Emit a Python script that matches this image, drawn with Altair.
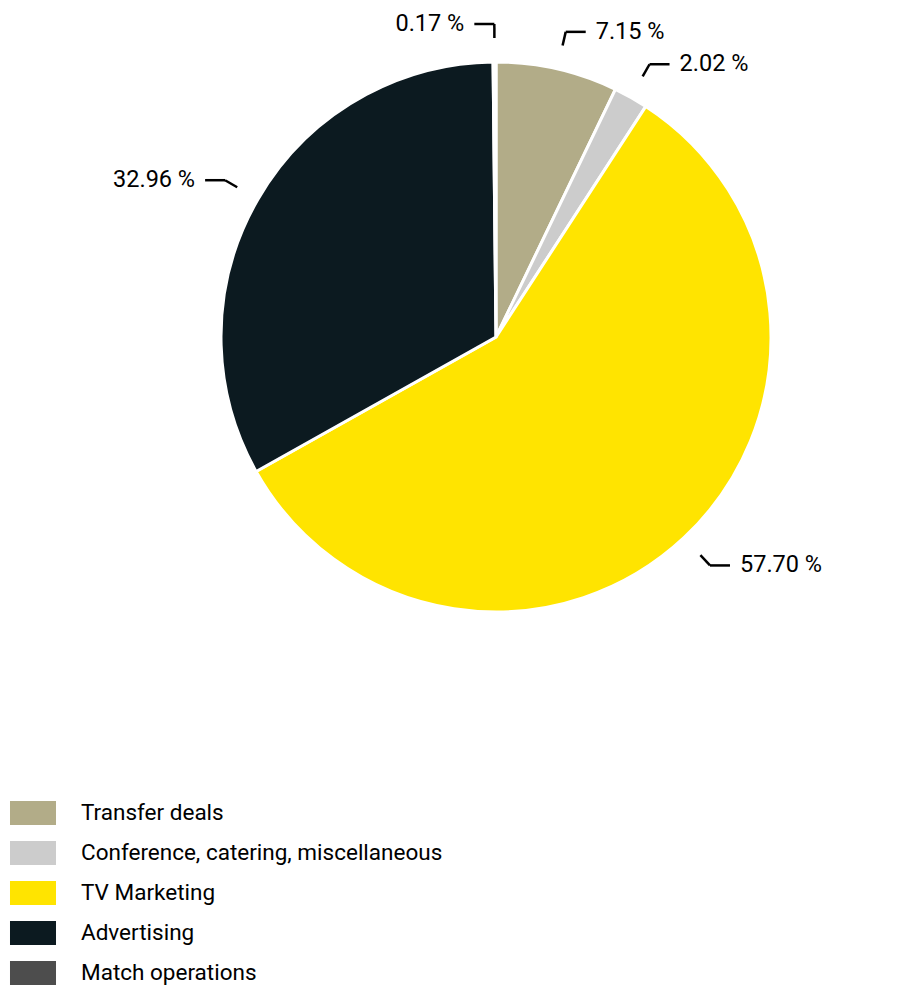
import altair as alt
import pandas as pd

categories = ["Transfer deals", "Conference, catering, miscellaneous",
              "TV Marketing", "Advertising", "Match operations"]
shares = [7.15, 2.02, 57.70, 32.96, 0.17]
colors = ["#b2ac88", "#cccccc", "#ffe400", "#0c1a20", "#4d4d4d"]

df = pd.DataFrame({"category": categories, "value": shares,
                   "order": list(range(len(categories)))})

W, H = 910, 985
CX, CY, R = 496, 337, 275
R1, R2, HOR, GAP = 299, 313, 20, 10
FONT = "Roboto"

xs = alt.Scale(domain=[0, W], nice=False, zero=False)
ys = alt.Scale(domain=[0, H], nice=False, zero=False, reverse=True)

base = alt.Chart(df)

legend = alt.Legend(
    orient="none", legendX=21, legendY=801, title=None, padding=0,
    symbolType="M-1.917,-1H1.917V1H-1.917Z", symbolSize=576,
    symbolStrokeWidth=0, symbolOpacity=1,
    labelFont=FONT, labelFontSize=22.5, labelColor="#000000",
    labelOffset=36, rowPadding=16, labelLimit=600,
)

pie = base.mark_arc(outerRadius=R, stroke="white", strokeWidth=3).encode(
    x=alt.XDatum(CX, scale=xs, axis=None),
    y=alt.YDatum(CY, scale=ys, axis=None),
    theta=alt.Theta("value:Q", stack=True),
    color=alt.Color("category:N", scale=alt.Scale(domain=categories, range=colors),
                    sort=categories, legend=legend),
    order=alt.Order("order:Q"),
)

geo = (
    base.transform_joinaggregate(total="sum(value)")
    .transform_window(cum="sum(value)", sort=[alt.SortField("order")], frame=[None, 0])
    .transform_calculate(mid="(datum.cum - datum.value/2)/datum.total*2*PI")
    .transform_calculate(side="sin(datum.mid) >= 0 ? 1 : -1")
    .transform_calculate(x1=f"{CX} + {R1}*sin(datum.mid)")
    .transform_calculate(y1=f"{CY} - {R1}*cos(datum.mid)")
    .transform_calculate(x2=f"{CX} + {R2}*sin(datum.mid)")
    .transform_calculate(y2=f"{CY} - {R2}*cos(datum.mid)")
    .transform_calculate(x3=f"datum.x2 + datum.side*{HOR}")
    .transform_calculate(tx=f"datum.x3 + datum.side*{GAP}")
    .transform_calculate(label="format(datum.value, '.2f') + ' %'")
)

diag = geo.mark_rule(color="black", strokeWidth=2.5).encode(
    x=alt.X("x1:Q", scale=xs, axis=None),
    y=alt.Y("y1:Q", scale=ys, axis=None),
    x2="x2:Q", y2="y2:Q",
)
hor = geo.mark_rule(color="black", strokeWidth=2.5).encode(
    x=alt.X("x2:Q", scale=xs, axis=None),
    y=alt.Y("y2:Q", scale=ys, axis=None),
    x2="x3:Q", y2="y2:Q",
)
txt_style = dict(baseline="middle", font=FONT, fontSize=23.5, fontWeight="normal", color="black")
tr = geo.transform_filter("datum.side > 0").mark_text(align="left", **txt_style).encode(
    x=alt.X("tx:Q", scale=xs, axis=None), y=alt.Y("y2:Q", scale=ys, axis=None), text="label:N")
tl = geo.transform_filter("datum.side < 0").mark_text(align="right", **txt_style).encode(
    x=alt.X("tx:Q", scale=xs, axis=None), y=alt.Y("y2:Q", scale=ys, axis=None), text="label:N")

chart = (
    alt.layer(pie, diag, hor, tr, tl)
    .properties(width=W, height=H, padding=0, autosize="none", background="white")
    .configure_view(stroke=None)
)

chart.save("out.html", embed_options={"renderer": "svg", "actions": False})
